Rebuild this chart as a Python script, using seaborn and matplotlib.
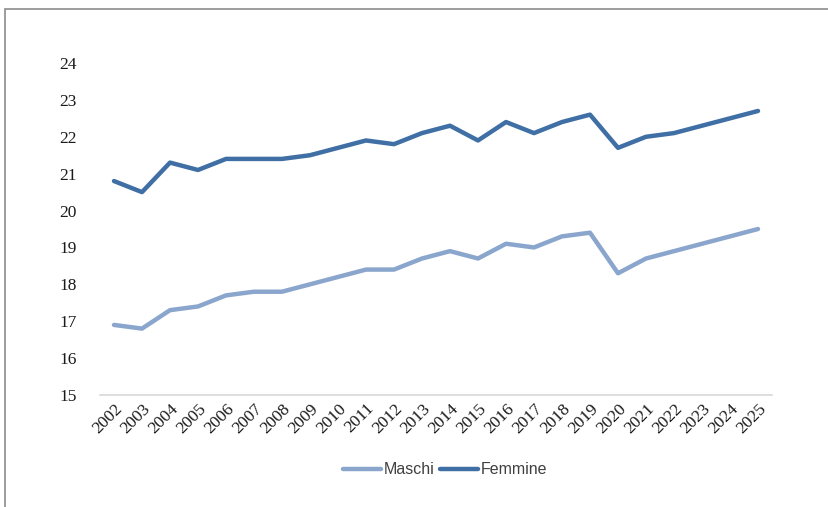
import pandas as pd
import matplotlib.pyplot as plt
import matplotlib.patches as mpatches
import seaborn as sns

years = [str(y) for y in range(2002, 2026)]
maschi = [16.9, 16.8, 17.3, 17.4, 17.7, 17.8, 17.8, 18.0, 18.2, 18.4, 18.4, 18.7,
          18.9, 18.7, 19.1, 19.0, 19.3, 19.4, 18.3, 18.7, 18.9, 19.1, 19.3, 19.5]
femmine = [20.8, 20.5, 21.3, 21.1, 21.4, 21.4, 21.4, 21.5, 21.7, 21.9, 21.8, 22.1,
           22.3, 21.9, 22.4, 22.1, 22.4, 22.6, 21.7, 22.0, 22.1, 22.3, 22.5, 22.7]
y_ticks = [15, 16, 17, 18, 19, 20, 21, 22, 23, 24]

df = pd.DataFrame({
    'anno': years * 2,
    'valore': maschi + femmine,
    'sesso': ['Maschi'] * len(years) + ['Femmine'] * len(years),
})

sns.set_style("white")
palette = {'Maschi': '#8aa6cd', 'Femmine': '#3f6fa4'}

fig = plt.figure(figsize=(8.29, 5.07), dpi=100)
ax = fig.add_axes([100 / 829, 112 / 507, 672 / 829, 332 / 507])

sns.lineplot(data=df, x='anno', y='valore', hue='sesso', palette=palette,
             linewidth=3.2, ax=ax, legend=False, sort=False)

ax.set_xlim(-0.5, len(years) - 0.5)
ax.set_ylim(15, 24)
ax.set_yticks(y_ticks)
ax.set_xlabel('')
ax.set_ylabel('')
for s in ['top', 'right', 'left']:
    ax.spines[s].set_visible(False)
ax.spines['bottom'].set_color('#d9d9d9')
ax.spines['bottom'].set_linewidth(1.2)
ax.tick_params(axis='both', length=0)
ax.tick_params(axis='y', pad=17)
ax.tick_params(axis='x', pad=4)

for lab in ax.get_yticklabels() + ax.get_xticklabels():
    lab.set_fontfamily('Liberation Serif')
    lab.set_fontsize(12.5)
    lab.set_color('#1a1a1a')
for lab in ax.get_xticklabels():
    lab.set_rotation(45)
    lab.set_ha('right')
    lab.set_rotation_mode('anchor')

handles = [plt.Line2D([], [], color=palette['Maschi'], lw=3.2),
           plt.Line2D([], [], color=palette['Femmine'], lw=3.2)]
leg = fig.legend(handles, ['Maschi', 'Femmine'], loc='center', bbox_to_anchor=(0.537, 1 - 470 / 507),
                 ncol=2, frameon=False, handlelength=2.4, handletextpad=0.2, columnspacing=0.3,
                 prop={'family': 'Liberation Sans', 'size': 11.5})
for t in leg.get_texts():
    t.set_color('#404040')

fig.patches.append(mpatches.Rectangle((5 / 829, -0.1), 2, 1.1 - 9 / 507,
                                      transform=fig.transFigure, fill=False,
                                      edgecolor='#8c8c8c', linewidth=1.2))

fig.savefig('out.png', dpi=100)
